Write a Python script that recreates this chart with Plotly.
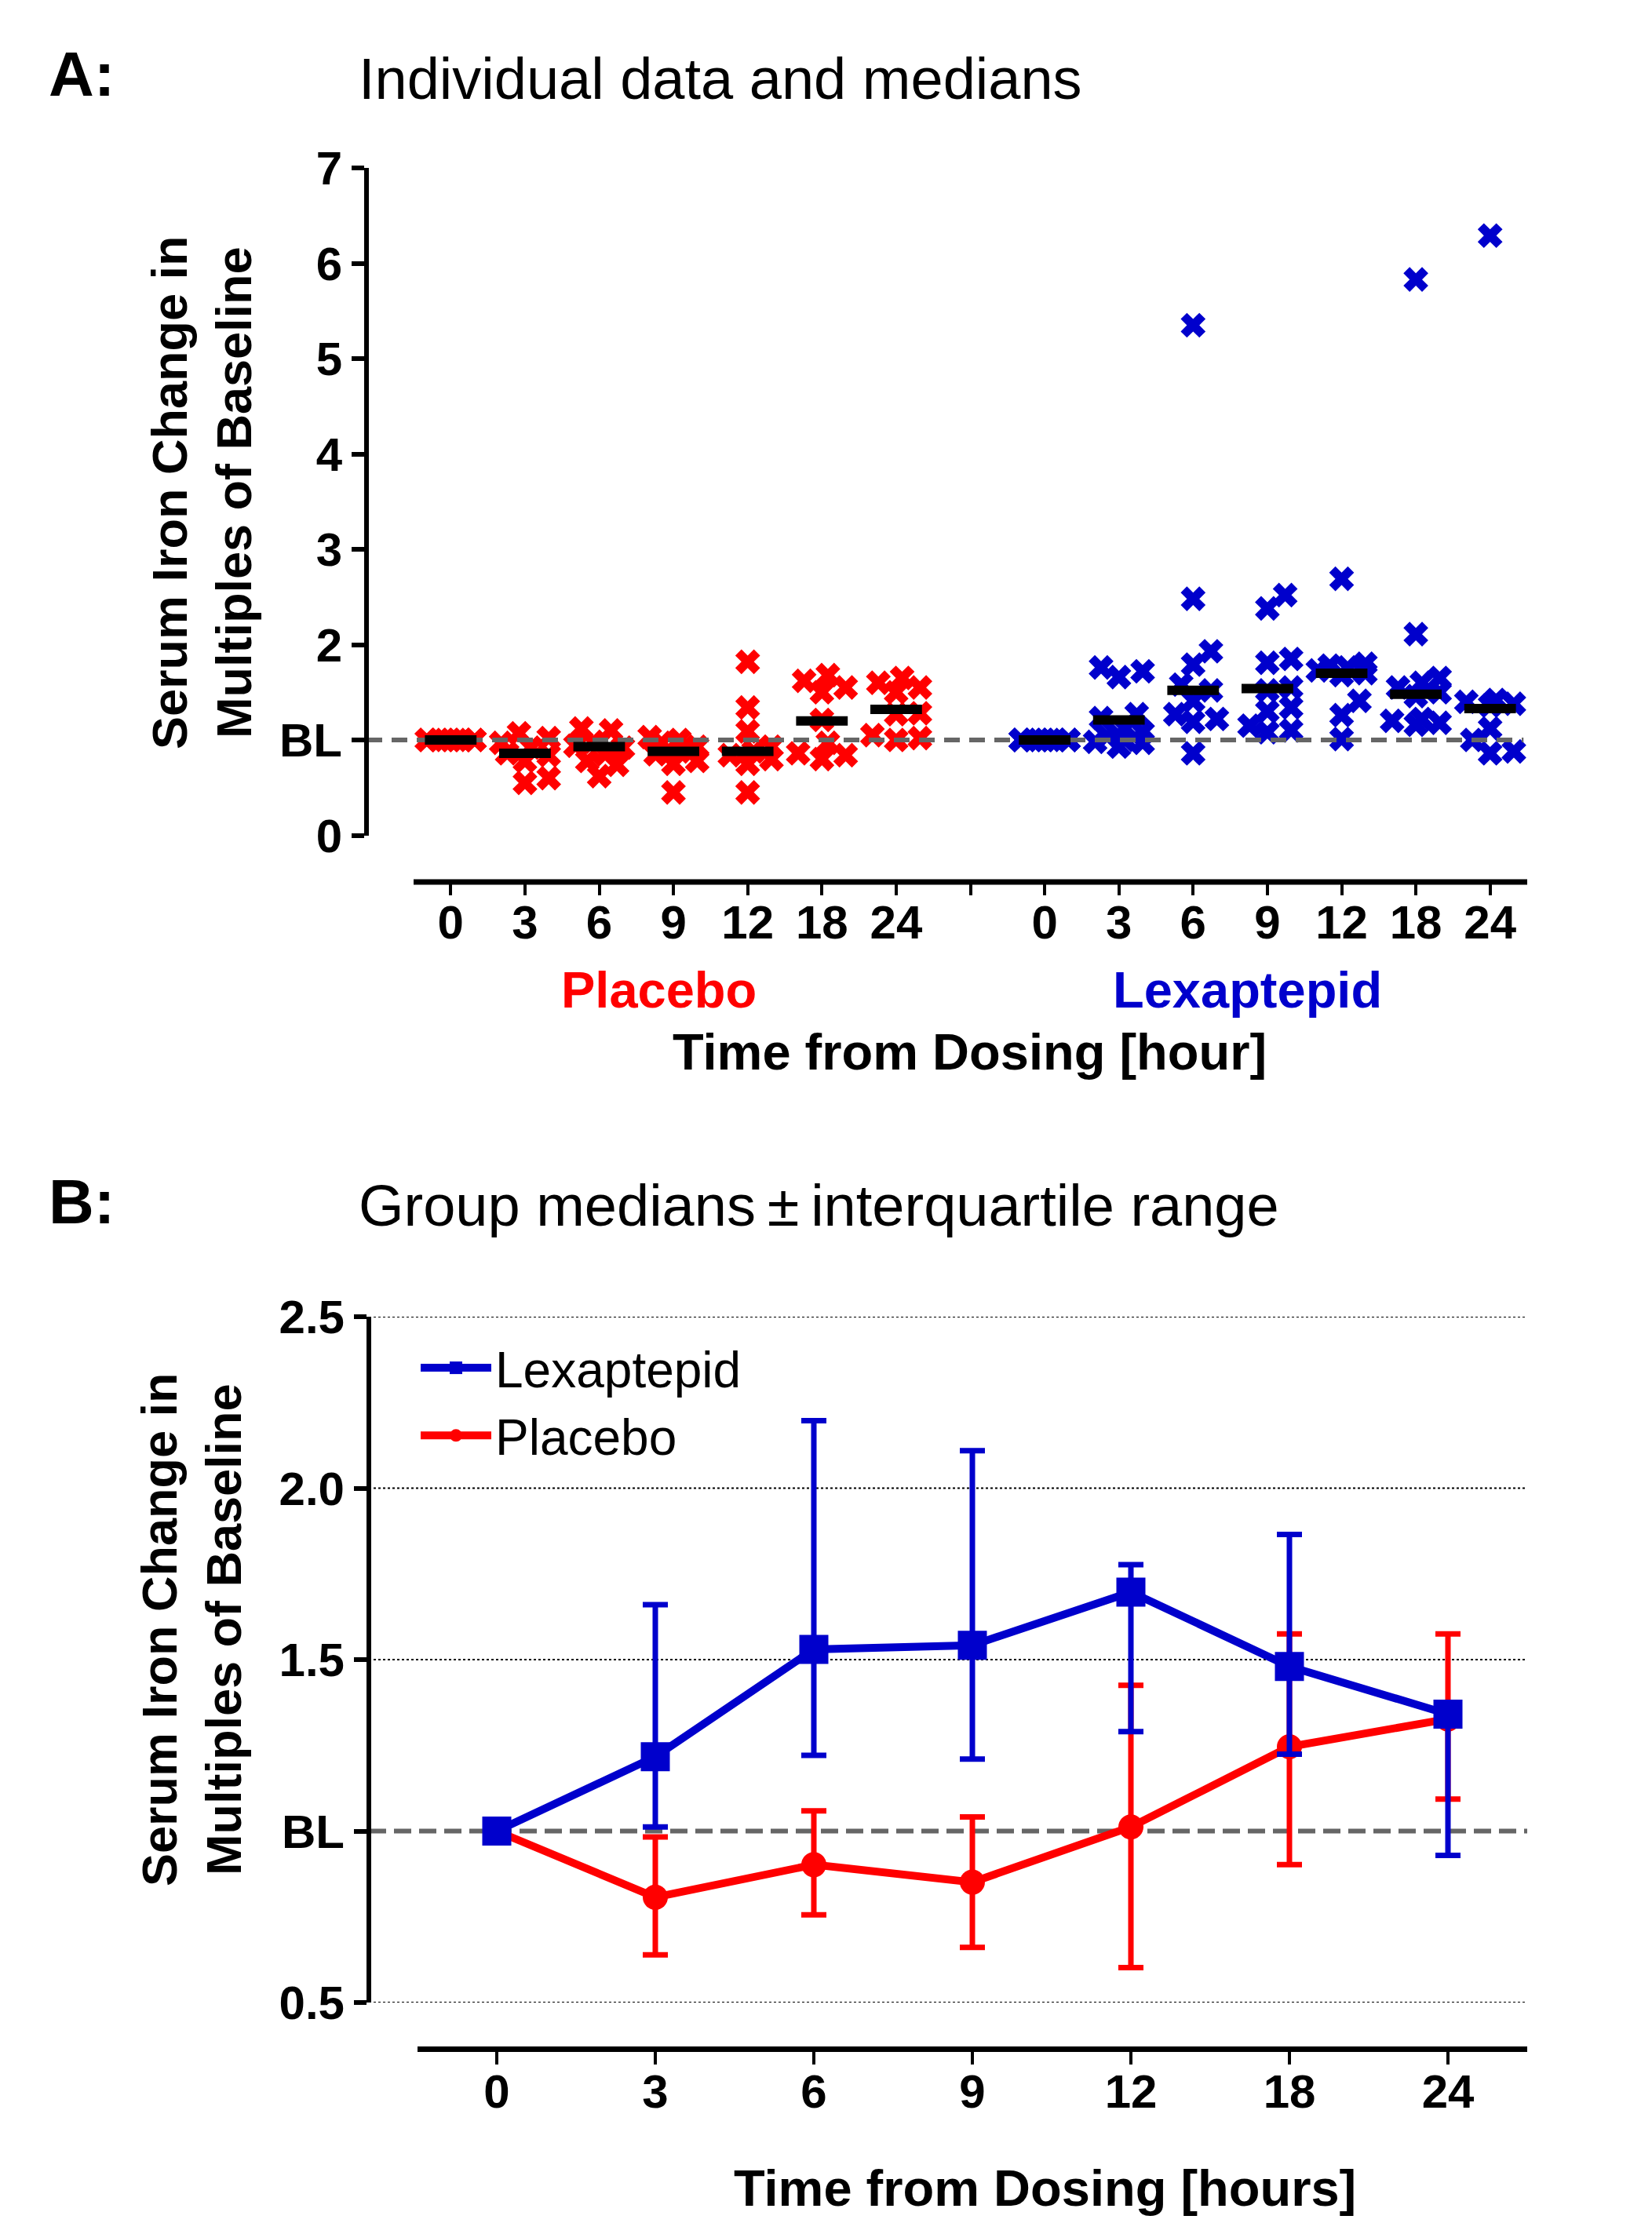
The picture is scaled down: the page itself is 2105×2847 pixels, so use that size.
import plotly.graph_objects as go

# ---------------- data ----------------
hours = ["0", "3", "6", "9", "12", "18", "24"]

# Panel A: individual values (multiples of baseline)
placebo_points = [
    [1.0, 1.0, 1.0, 1.0, 1.0, 1.0, 1.0, 1.0, 1.0],
    [1.07, 1.02, 0.97, 0.92, 0.86, 0.84, 0.78, 0.60, 0.55],
    [1.12, 1.10, 0.98, 0.94, 0.92, 0.85, 0.78, 0.74, 0.62],
    [1.03, 1.00, 0.97, 0.93, 0.88, 0.85, 0.78, 0.75, 0.45],
    [1.82, 1.34, 1.09, 0.93, 0.88, 0.84, 0.80, 0.75, 0.45],
    [1.68, 1.62, 1.55, 1.50, 1.21, 0.97, 0.86, 0.84, 0.80],
    [1.65, 1.60, 1.55, 1.50, 1.28, 1.27, 1.05, 1.02, 1.00],
]
lexaptepid_points = [
    [1.0, 1.0, 1.0, 1.0, 1.0, 1.0, 1.0, 1.0, 1.0, 1.0, 1.0, 1.0],
    [1.76, 1.72, 1.66, 1.27, 1.23, 1.12, 1.08, 1.04, 1.00, 0.98, 0.97, 0.93],
    [5.35, 2.48, 1.93, 1.79, 1.58, 1.52, 1.41, 1.27, 1.22, 1.19, 0.86],
    [2.52, 2.38, 1.85, 1.81, 1.55, 1.52, 1.34, 1.30, 1.15, 1.10, 1.08],
    [2.69, 1.80, 1.78, 1.76, 1.73, 1.70, 1.68, 1.41, 1.26, 1.01],
    [5.83, 2.11, 1.65, 1.60, 1.55, 1.50, 1.46, 1.22, 1.20, 1.18, 1.16],
    [6.29, 1.42, 1.40, 1.38, 1.36, 1.12, 1.00, 0.88, 0.86],
]
placebo_median_a = [1.0, 0.86, 0.93, 0.88, 0.88, 1.20, 1.32]
lexaptepid_median_a = [1.0, 1.21, 1.52, 1.54, 1.70, 1.48, 1.33]

# Panel B: group medians and interquartile range
lex_median = [1.0, 1.217, 1.53, 1.542, 1.697, 1.48, 1.341]
lex_q1 = [1.0, 1.012, 1.221, 1.21, 1.29, 1.224, 0.929]
lex_q3 = [1.0, 1.66, 2.197, 2.109, 1.777, 1.865, 1.37]
pla_median = [1.0, 0.807, 0.902, 0.851, 1.012, 1.246, 1.327]
pla_q1 = [1.0, 0.639, 0.756, 0.661, 0.602, 0.902, 1.093]
pla_q3 = [1.0, 0.983, 1.059, 1.041, 1.425, 1.575, 1.575]

ya_ticks = [0, 1, 2, 3, 4, 5, 6, 7]
ya_text = ["0", "BL", "2", "3", "4", "5", "6", "7"]
yb_ticks = [0.5, 1.0, 1.5, 2.0, 2.5]
yb_text = ["0.5", "BL", "1.5", "2.0", "2.5"]

# ---------------- layout helpers ----------------
W, H = 2105, 2847
OFF = 8  # page body margin


def px(x):
    return (x - OFF) / W


def py(y):
    return 1 - (y - OFF) / H


RED = "#FF0000"
BLUE = "#0000CC"
GREY = "#666666"
FONT = "Liberation Sans, Arial, sans-serif"

# panel A geometry (pixels)
A_LEFT_AXIS = 467
A_X0, A_X1 = 527, 1946
A_Y0_PX, A_Y7_PX = 1064.5, 214
A_XLINE = 1124
n_cat = 15
cat_px = (A_X1 - A_X0) / n_cat
a_xmin = -0.5 - (A_X0 - A_LEFT_AXIS) / cat_px
a_xmax = n_cat - 0.5
y_px_per_unit = (A_Y0_PX - A_Y7_PX) / 7


def swarm(values, diam=24.0, step=0.08, maxoff=0.34):
    """deterministic beeswarm offsets (in category units)"""
    cands = [0.0]
    k = 1
    while k * step <= maxoff + 1e-9:
        cands += [k * step, -k * step]
        k += 1
    order = sorted(range(len(values)), key=lambda i: values[i])
    placed = []
    res = [0.0] * len(values)
    for i in order:
        best, bestcost = None, None
        for c in cands:
            cost = 0.0
            for (ox, oy) in placed:
                dx = (c - ox) * cat_px
                dy = (values[i] - oy) * y_px_per_unit
                d = (dx * dx + dy * dy) ** 0.5
                if d < diam:
                    cost += diam - d
            if cost == 0:
                best = c
                break
            if bestcost is None or cost < bestcost:
                best, bestcost = c, cost
        placed.append((best, values[i]))
        res[i] = best
    return res


fig = go.Figure()

# ---------------- Panel A ----------------
groups = [(placebo_points, RED, 0), (lexaptepid_points, BLUE, 8)]
for pts_list, col, base in groups:
    xs, ys = [], []
    for gi, vals in enumerate(pts_list):
        offs = swarm(vals)
        xs += [base + gi + o for o in offs]
        ys += vals
    fig.add_trace(go.Scatter(
        x=xs, y=ys, mode="markers", xaxis="x", yaxis="y",
        marker=dict(symbol="x", size=28, color=col, line=dict(width=0)),
        showlegend=False, hoverinfo="skip"))

# baseline dashed line (between points and median bars)
fig.add_trace(go.Scatter(
    x=[a_xmin, a_xmax - 0.05], y=[1, 1], mode="lines", xaxis="x", yaxis="y",
    line=dict(color=GREY, width=6, dash="20px,12px"),
    showlegend=False, hoverinfo="skip"))

# median bars
med_x = list(range(0, 7)) + list(range(8, 15))
fig.add_trace(go.Scatter(
    x=med_x, y=placebo_median_a + lexaptepid_median_a, mode="markers",
    xaxis="x", yaxis="y",
    marker=dict(symbol="line-ew", size=47, color="black",
                line=dict(width=12, color="black")),
    showlegend=False, hoverinfo="skip"))

# ---------------- Panel B ----------------
xb = list(range(len(hours)))
fig.add_trace(go.Scatter(
    x=xb, y=pla_median, mode="lines+markers", name="Placebo",
    xaxis="x2", yaxis="y2", legendrank=2,
    line=dict(color=RED, width=10),
    marker=dict(symbol="circle", size=32, color=RED),
    error_y=dict(type="data", symmetric=False,
                 array=[q - m for q, m in zip(pla_q3, pla_median)],
                 arrayminus=[m - q for q, m in zip(pla_q1, pla_median)],
                 color=RED, thickness=7, width=16)))
fig.add_trace(go.Scatter(
    x=xb, y=lex_median, mode="lines+markers", name="Lexaptepid",
    xaxis="x2", yaxis="y2", legendrank=1,
    line=dict(color=BLUE, width=10),
    marker=dict(symbol="square", size=37, color=BLUE),
    error_y=dict(type="data", symmetric=False,
                 array=[q - m for q, m in zip(lex_q3, lex_median)],
                 arrayminus=[m - q for q, m in zip(lex_q1, lex_median)],
                 color=BLUE, thickness=7, width=16)))

tickfont = dict(family=FONT, size=60, color="black", weight="bold")

B_LEFT_AXIS = 470
B_X0, B_X1 = 532, 1946
B_Y05, B_Y25 = 2552, 1678
B_XLINE = 2611

fig.update_layout(
    width=W, height=H,
    margin=dict(l=0, r=0, t=0, b=0, autoexpand=False),
    paper_bgcolor="white", plot_bgcolor="rgba(0,0,0,0)",
    font=dict(family=FONT, color="black"),
    xaxis=dict(
        domain=[px(A_LEFT_AXIS), px(A_X1)], range=[a_xmin, a_xmax],
        anchor="free", position=py(A_XLINE), automargin=False,
        tickmode="array", tickvals=list(range(15)),
        ticktext=hours + [""] + hours,
        ticks="outside", ticklen=16, tickwidth=4, tickcolor="black",
        showline=False, showgrid=False, zeroline=False,
        tickfont=tickfont, ticklabelstandoff=-17),
    yaxis=dict(
        domain=[py(A_Y0_PX), py(A_Y7_PX)], range=[0, 7],
        anchor="free", position=px(A_LEFT_AXIS), automargin=False,
        tickmode="array", tickvals=ya_ticks, ticktext=ya_text,
        ticks="outside", ticklen=16, tickwidth=6, tickcolor="black",
        showline=True, linewidth=6, linecolor="black",
        showgrid=False, zeroline=False, tickfont=tickfont),
    xaxis2=dict(
        domain=[px(B_X0), px(B_X1)], range=[-0.5, 6.5],
        anchor="free", position=py(B_XLINE), automargin=False,
        tickmode="array", tickvals=xb, ticktext=hours,
        ticks="outside", ticklen=16, tickwidth=4, tickcolor="black",
        showline=True, linewidth=7, linecolor="black",
        showgrid=False, zeroline=False, tickfont=tickfont,
        ticklabelstandoff=-17),
    yaxis2=dict(
        domain=[py(B_Y05), py(B_Y25)], range=[0.5, 2.5],
        anchor="free", position=px(B_LEFT_AXIS), automargin=False,
        tickmode="array", tickvals=yb_ticks, ticktext=yb_text,
        ticks="outside", ticklen=16, tickwidth=6, tickcolor="black",
        showline=True, linewidth=6, linecolor="black",
        showgrid=False, zeroline=False, tickfont=tickfont),
    legend=dict(
        x=px(531), y=py(1695), xanchor="left", yanchor="top",
        font=dict(family=FONT, size=64, color="black"),
        bgcolor="rgba(0,0,0,0)", itemwidth=90, tracegroupgap=0),
    showlegend=True,
)

shapes = []
# panel A x-axis line
shapes.append(dict(type="line", xref="paper", yref="paper",
                   x0=px(A_X0), x1=px(A_X1), y0=py(A_XLINE), y1=py(A_XLINE),
                   line=dict(color="black", width=7)))
# panel B gridlines (dotted) and baseline
for v in yb_ticks:
    if v == 1.0:
        continue
    shapes.append(dict(type="line", xref="paper", yref="y2",
                       x0=px(B_LEFT_AXIS), x1=px(B_X1), y0=v, y1=v,
                       line=dict(color="black", width=2, dash="3px,3px"),
                       layer="below"))
shapes.append(dict(type="line", xref="paper", yref="y2",
                   x0=px(B_LEFT_AXIS), x1=px(B_X1), y0=1, y1=1,
                   line=dict(color=GREY, width=6, dash="22px,10px"),
                   layer="below"))
fig.update_layout(shapes=shapes)

ann = []


def add_text(text, x, y, size, bold=False, color="black", xanchor="center",
             angle=0):
    ann.append(dict(text=text, x=px(x), y=py(y), xref="paper", yref="paper",
                    showarrow=False, xanchor=xanchor, yanchor="middle",
                    textangle=angle,
                    font=dict(family=FONT, size=size, color=color,
                              weight="bold" if bold else "normal")))


add_text("A:", 60, 95, 80, bold=True, xanchor="left")
add_text("Individual data and medians", 455, 100, 74, xanchor="left")
add_text("Serum Iron Change in<br>Multiples of Baseline", 257, 628, 63,
         bold=True, angle=-90)
add_text("Placebo", 839, 1262, 65, bold=True, color=RED)
add_text("Lexaptepid", 1589, 1262, 65, bold=True, color=BLUE)
add_text("Time from Dosing [hour]", 1235, 1340, 65, bold=True)

add_text("B:", 60, 1531, 80, bold=True, xanchor="left")
add_text("Group medians\u2009\u00b1\u2009interquartile range", 455, 1536, 74,
         xanchor="left")
add_text("Serum Iron Change in<br>Multiples of Baseline", 244, 2077, 63,
         bold=True, angle=-90)
add_text("Time from Dosing [hours]", 1331, 2788, 65, bold=True)

fig.update_layout(annotations=ann)

fig.write_html("out.html")
